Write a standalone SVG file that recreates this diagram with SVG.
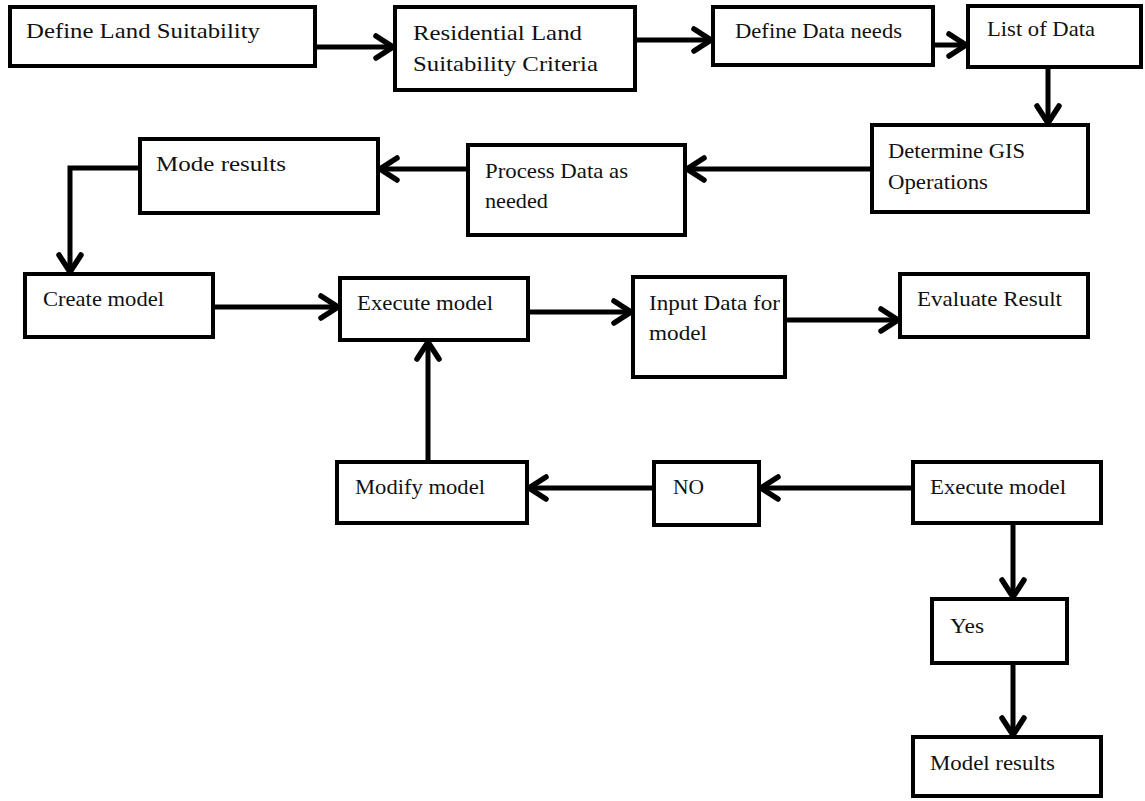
<svg xmlns="http://www.w3.org/2000/svg" width="1145" height="801" viewBox="0 0 1145 801">
<style>
.box{fill:#fff;stroke:#000;stroke-width:4}
.t{font-family:"Liberation Serif","Times New Roman",serif;font-size:21px;fill:#111}
.c{fill:none;stroke:#000;stroke-width:5}
</style>
<defs>
<marker id="ah" markerUnits="userSpaceOnUse" viewBox="0 0 24 28" refX="20" refY="14" markerWidth="24" markerHeight="28" orient="auto">
<path d="M3,3 L20,14 L3,25" fill="none" stroke="#000" stroke-width="5.5" stroke-linecap="round"/>
</marker>
</defs>
<rect width="1145" height="801" fill="#fff"/>
<g id="connectors">
<line class="c" x1="315" y1="47" x2="393" y2="47" marker-end="url(#ah)"/>
<line class="c" x1="635" y1="40" x2="711" y2="40" marker-end="url(#ah)"/>
<line class="c" x1="933" y1="45" x2="966" y2="45" marker-end="url(#ah)"/>
<line class="c" x1="1048" y1="67" x2="1048" y2="123" marker-end="url(#ah)"/>
<line class="c" x1="872" y1="169" x2="687" y2="169" marker-end="url(#ah)"/>
<line class="c" x1="468" y1="169" x2="380" y2="169" marker-end="url(#ah)"/>
<polyline class="c" points="140,168 70,168 70,272" marker-end="url(#ah)"/>
<line class="c" x1="213" y1="307" x2="338" y2="307" marker-end="url(#ah)"/>
<line class="c" x1="528" y1="312" x2="631" y2="312" marker-end="url(#ah)"/>
<line class="c" x1="785" y1="320" x2="898" y2="320" marker-end="url(#ah)"/>
<line class="c" x1="428" y1="462" x2="428" y2="342" marker-end="url(#ah)"/>
<line class="c" x1="654" y1="488" x2="529" y2="488" marker-end="url(#ah)"/>
<line class="c" x1="913" y1="488" x2="761" y2="488" marker-end="url(#ah)"/>
<line class="c" x1="1013" y1="523" x2="1013" y2="597" marker-end="url(#ah)"/>
<line class="c" x1="1013" y1="663" x2="1013" y2="735" marker-end="url(#ah)"/>
</g>
<g id="n1"><rect class="box" x="10" y="7" width="305" height="59"/><text class="t" x="26" y="38" textLength="234" lengthAdjust="spacingAndGlyphs">Define Land Suitability</text></g>
<g id="n2"><rect class="box" x="395" y="7" width="240" height="83"/><text class="t" x="413" y="40" textLength="169" lengthAdjust="spacingAndGlyphs">Residential Land</text><text class="t" x="413" y="71" textLength="185" lengthAdjust="spacingAndGlyphs">Suitability Criteria</text></g>
<g id="n3"><rect class="box" x="713" y="7" width="220" height="58"/><text class="t" x="735" y="38" textLength="167" lengthAdjust="spacingAndGlyphs">Define Data needs</text></g>
<g id="n4"><rect class="box" x="968" y="6" width="173" height="61"/><text class="t" x="987" y="36" textLength="108" lengthAdjust="spacingAndGlyphs">List of Data</text></g>
<g id="n5"><rect class="box" x="872" y="125" width="216" height="87"/><text class="t" x="888" y="158" textLength="137" lengthAdjust="spacingAndGlyphs">Determine GIS</text><text class="t" x="888" y="189" textLength="100" lengthAdjust="spacingAndGlyphs">Operations</text></g>
<g id="n6"><rect class="box" x="468" y="145" width="217" height="90"/><text class="t" x="485" y="178" textLength="143" lengthAdjust="spacingAndGlyphs">Process Data as</text><text class="t" x="485" y="208" textLength="63" lengthAdjust="spacingAndGlyphs">needed</text></g>
<g id="n7"><rect class="box" x="140" y="139" width="238" height="74"/><text class="t" x="156" y="171" textLength="130" lengthAdjust="spacingAndGlyphs">Mode results</text></g>
<g id="n8"><rect class="box" x="25" y="274" width="188" height="63"/><text class="t" x="43" y="306" textLength="121" lengthAdjust="spacingAndGlyphs">Create model</text></g>
<g id="n9"><rect class="box" x="340" y="278" width="188" height="62"/><text class="t" x="357" y="310" textLength="136" lengthAdjust="spacingAndGlyphs">Execute model</text></g>
<g id="n10"><rect class="box" x="633" y="277" width="152" height="100"/><text class="t" x="649" y="310" textLength="131" lengthAdjust="spacingAndGlyphs">Input Data for</text><text class="t" x="649" y="340" textLength="58" lengthAdjust="spacingAndGlyphs">model</text></g>
<g id="n11"><rect class="box" x="900" y="274" width="188" height="63"/><text class="t" x="917" y="306" textLength="145" lengthAdjust="spacingAndGlyphs">Evaluate Result</text></g>
<g id="n12"><rect class="box" x="337" y="462" width="190" height="61"/><text class="t" x="355" y="494" textLength="130" lengthAdjust="spacingAndGlyphs">Modify model</text></g>
<g id="n13"><rect class="box" x="654" y="462" width="105" height="63"/><text class="t" x="673" y="494" textLength="31" lengthAdjust="spacingAndGlyphs">NO</text></g>
<g id="n14"><rect class="box" x="913" y="462" width="188" height="61"/><text class="t" x="930" y="494" textLength="136" lengthAdjust="spacingAndGlyphs">Execute model</text></g>
<g id="n15"><rect class="box" x="932" y="599" width="135" height="64"/><text class="t" x="950" y="633" textLength="34" lengthAdjust="spacingAndGlyphs">Yes</text></g>
<g id="n16"><rect class="box" x="913" y="737" width="188" height="59"/><text class="t" x="930" y="770" textLength="125" lengthAdjust="spacingAndGlyphs">Model results</text></g>
</svg>
